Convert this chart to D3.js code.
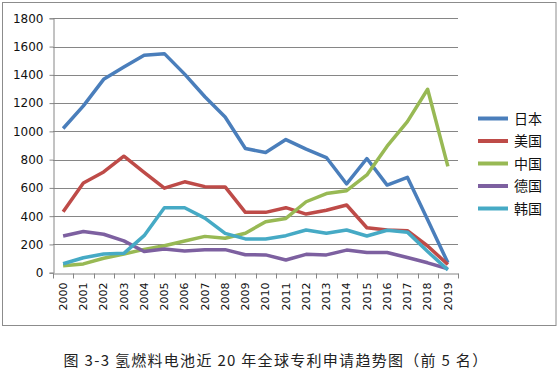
<!DOCTYPE html>
<html>
<head>
<meta charset="utf-8">
<script src="https://cdn.jsdelivr.net/npm/d3@7/dist/d3.min.js"></script>
<style>
  body { margin: 0; background: #fff; }
  svg { display: block; }
</style>
</head>
<body>
<div id="chart"></div>
<script>
// years on the x axis
var years = ['2000','2001','2002','2003','2004','2005','2006','2007','2008','2009',
             '2010','2011','2012','2013','2014','2015','2016','2017','2018','2019'];
var countries = ['日本', '美国', '中国', '德国', '韩国'];
var japan   = [1020, 1180, 1368, 1455, 1538, 1550, 1405, 1245, 1102, 879, 850, 942, 874, 815, 628, 808, 620, 675, 375, 70];
var usa     = [432, 635, 713, 824, 710, 598, 643, 609, 607, 427, 427, 460, 415, 442, 479, 318, 302, 297, 189, 58];
var china   = [50, 62, 102, 132, 165, 191, 224, 257, 244, 279, 361, 384, 502, 560, 580, 692, 895, 1069, 1298, 752];
var germany = [260, 292, 272, 225, 150, 168, 153, 163, 163, 127, 126, 90, 130, 126, 160, 143, 143, 108, 70, 28];
var korea   = [63, 106, 132, 137, 262, 460, 460, 386, 278, 239, 239, 262, 302, 279, 302, 260, 300, 287, 150, 20];
var yTicks  = [0, 200, 400, 600, 800, 1000, 1200, 1400, 1600, 1800];
var colors  = ['#4a7ebb', '#be4b48', '#98b954', '#7d60a0', '#46aac5'];
var title   = '图 3-3 氢燃料电池近 20 年全球专利申请趋势图（前 5 名）';

var series = [japan, usa, china, germany, korea];

var width = 560, height = 375;
var svg = d3.select('#chart').append('svg')
    .attr('width', width)
    .attr('height', height);

// chart frame
svg.append('rect')
    .attr('x', 2.5).attr('y', 2.5)
    .attr('width', 553.5).attr('height', 323)
    .attr('fill', '#fff')
    .attr('stroke', '#8c8c8c');

var plot = { left: 53, right: 458, top: 18.3, bottom: 272.7 };

var x = d3.scaleBand()
    .domain(years)
    .range([plot.left, plot.right]);
var y = d3.scaleLinear()
    .domain([0, 1800])
    .range([plot.bottom, plot.top]);

// gridlines
svg.append('g').selectAll('line')
    .data(yTicks.slice(1))
    .enter().append('line')
    .attr('x1', plot.left).attr('x2', plot.right)
    .attr('y1', function(d) { return Math.round(y(d)) + 0.5; })
    .attr('y2', function(d) { return Math.round(y(d)) + 0.5; })
    .attr('stroke', '#868686');

// y axis
var yAxis = svg.append('g')
    .attr('transform', 'translate(' + (plot.left + 0.5) + ',0)')
    .call(d3.axisLeft(y).tickValues(yTicks).tickFormat(d3.format('d')).tickSize(4).tickPadding(6));
yAxis.select('.domain').attr('stroke', '#868686');
yAxis.selectAll('.tick line').attr('stroke', '#868686');
yAxis.selectAll('.tick text')
    .attr('fill', '#111')
    .style('font-family', 'DejaVu Sans')
    .style('font-size', '12px');

// x axis
var xAxis = svg.append('g')
    .attr('transform', 'translate(0,' + (Math.round(plot.bottom) + 0.5) + ')')
    .call(d3.axisBottom(x).tickSize(0).tickPadding(0));
xAxis.select('.domain').attr('stroke', '#868686');
xAxis.selectAll('.tick text')
    .attr('fill', '#111')
    .style('font-family', 'DejaVu Sans')
    .style('font-size', '11px')
    .attr('text-anchor', 'end')
    .attr('transform', 'rotate(-90)')
    .attr('x', -9)
    .attr('y', 0)
    .attr('dy', '0.35em');
// tick marks at band boundaries
xAxis.append('g').selectAll('line')
    .data(years.concat(['end']))
    .enter().append('line')
    .attr('x1', function(d, i) { return Math.round(plot.left + i * x.step()) + 0.5; })
    .attr('x2', function(d, i) { return Math.round(plot.left + i * x.step()) + 0.5; })
    .attr('y1', 0).attr('y2', 5)
    .attr('stroke', '#868686');

// lines
var line = d3.line()
    .x(function(d, i) { return x(years[i]) + x.bandwidth() / 2; })
    .y(function(d) { return y(d); });

svg.append('g').selectAll('path')
    .data(series)
    .enter().append('path')
    .attr('d', line)
    .attr('fill', 'none')
    .attr('stroke', function(d, i) { return colors[i]; })
    .attr('stroke-width', 3.5)
    .attr('stroke-linejoin', 'round');

// legend
var legend = svg.append('g').selectAll('g')
    .data(countries)
    .enter().append('g')
    .attr('transform', function(d, i) { return 'translate(478,' + (118.5 + i * 22.5) + ')'; });
legend.append('line')
    .attr('x1', 0).attr('x2', 30)
    .attr('stroke', function(d, i) { return colors[i]; })
    .attr('stroke-width', 4);
legend.append('text')
    .attr('x', 36)
    .attr('dy', '0.36em')
    .style('font-family', 'Noto Sans CJK SC')
    .style('font-size', '14px')
    .attr('fill', '#111')
    .text(function(d) { return d; });

// caption
svg.append('text')
    .attr('x', 276)
    .attr('y', 366)
    .attr('text-anchor', 'middle')
    .style('font-family', 'Noto Sans CJK SC')
    .style('font-size', '15px')
    .style('letter-spacing', '1.3px')
    .attr('fill', '#222')
    .text(title);
</script>
</body>
</html>
